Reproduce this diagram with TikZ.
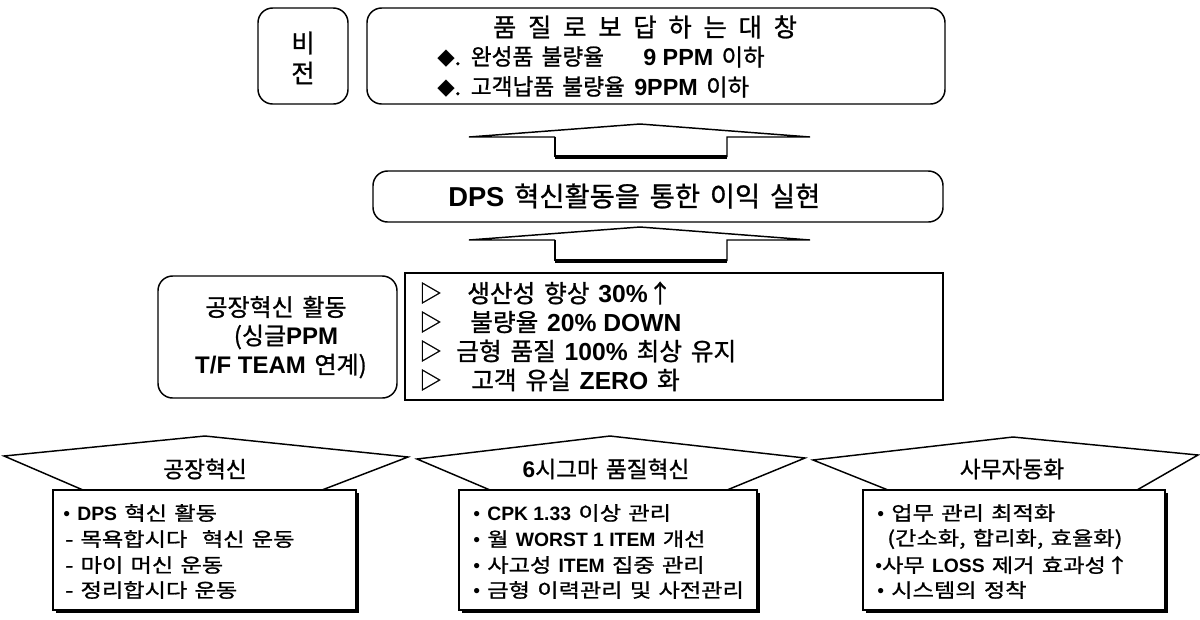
\documentclass[tikz,border=0pt]{standalone}
\usepackage{fontspec}
\setmainfont{Noto Sans CJK KR}[WordSpace=1.6, FakeBold=1.0]
\newfontfamily\krw{Noto Sans CJK KR}[WordSpace=1.4, FakeBold=1.0, FakeStretch=1.2]
\newfontfamily\ar{Liberation Sans}
\newfontfamily\djv{DejaVu Sans}
\newcommand\B[1]{{\ar\bfseries #1}}
\newcommand\fsz[1]{\fontsize{#1}{#1}\selectfont}
\usetikzlibrary{fit,shadows}
\begin{document}
\begin{tikzpicture}[x=0.75pt,y=-0.75pt,
  every node/.style={inner sep=0pt},
  rbox/.style={draw, line width=1.1pt, rounded corners=11pt, inner sep=0pt},
  sbox/.style={draw, line width=1.1pt, inner sep=0pt},
  shbox/.style={draw, line width=1.1pt, inner sep=0pt, fill=white,
     drop shadow={shadow xshift=2pt, shadow yshift=-2pt, fill=black, opacity=1}},
  lbl/.style={anchor=west, inner sep=0pt},
  ctr/.style={anchor=center, inner sep=0pt},
  wing/.style={line width=1.1pt, line join=miter},
  stem/.style={line width=3pt},
  btxt/.style={anchor=west, inner sep=0pt, font=\krw\fsz{14.5}}
]
\useasboundingbox (0,0) rectangle (1200,619);

% ---- top: vision
\node[rbox, fit={(258,8)(348,104)}] (vlab) {};
\node[rbox, fit={(367,8)(945,104)}] (vis) {};
\node[ctr, font=\fsz{19}] (vl1) at (303,43) {비};
\node[ctr, font=\fsz{19}] (vl2) at (303,73) {전};
\node[ctr, font=\fsz{19}] (vt) at (645,27) {\makebox[228pt]{품\hfill 질\hfill 로\hfill 보\hfill 답\hfill 하\hfill 는\hfill 대\hfill 창}};
\node[lbl, font=\fsz{17}] (v2a) at (437,57) {{\djv ◆}. 완성품 불량율};
\node[lbl, font=\fsz{17.5}] (v2b) at (643,57) {\B{9 PPM} 이하};
\node[lbl, font=\fsz{17}] (v3a) at (437,87) {{\djv ◆}. 고객납품 불량율};
\node[lbl, font=\fsz{17.5}] (v3b) at (634,87) {\B{9PPM} 이하};

% ---- arrow 1
\draw[wing] (555,137) -- (469,137) -- (640,124) -- (810,137) -- (727,137) -- (727,157);
\draw[wing] (555,137) -- (555,157);
\draw[stem] (555,157) -- (727,157);

% ---- DPS
\node[rbox, fit={(373,171)(943,222)}] (dps) {};
\node[lbl, font=\fsz{20.5}] (dpst) at (448,196) {\B{DPS} 혁신활동을 통한 이익 실현};

% ---- arrow 2
\draw[wing] (555,240) -- (469,240) -- (640,227) -- (810,240) -- (727,240) -- (727,261);
\draw[wing] (555,240) -- (555,261);
\draw[stem] (555,261) -- (727,261);

% ---- factory box and goals
\node[rbox, fit={(158,276)(397,398)}] (fac) {};
\node[ctr, font=\fsz{18}] (f1) at (276,307) {공장혁신 활동};
\node[ctr, font=\fsz{18}] (f2) at (286,337) {(싱글\B{PPM}};
\node[ctr, font=\fsz{18}] (f3) at (281,366) {\B{T/F TEAM} 연계)};

\node[sbox, fit={(405,273)(943,400)}] (goal) {};
\foreach \yy/\nm in {293/g1,322/g2,351/g3,380/g4}{
  \node[lbl, font=\fsz{17}] (\nm m) at (419,\yy) {▷};
}
\node[lbl, font=\fsz{18.5}] (g1) at (467,293) {생산성 향상 \B{30\%}↑};
\node[lbl, font=\fsz{18.5}] (g2) at (470,322) {불량율 \B{20\% DOWN}};
\node[lbl, font=\fsz{18.5}] (g3) at (456,351) {금형 품질 \B{100\%} 최상 유지};
\node[lbl, font=\fsz{18.5}] (g4) at (471,380) {고객 유실 \B{ZERO} 화};

% ---- bottom hats
\draw[wing] (83,490) -- (4,456) -- (205,436) -- (408,457) -- (322,490);
\draw[wing] (490,490) -- (417,459) -- (610,436) -- (805,458) -- (727,490);
\draw[wing] (888,490) -- (813,460) -- (1013,437) -- (1198,455) -- (1137,490);
\node[ctr, font=\fsz{17}] (h1) at (205,469) {공장혁신};
\node[ctr, font=\fsz{17}] (h2) at (606,469) {\B{6}시그마 품질혁신};
\node[ctr, font=\fsz{17}] (h3) at (1012,469) {사무자동화};

% ---- bottom boxes
\node[shbox, fit={(53,490)(356,610)}] (b1) {};
\node[shbox, fit={(459,490)(757,610)}] (b2) {};
\node[shbox, fit={(863,490)(1165,610)}] (b3) {};

\node[btxt] (b1a) at (63,513) {{\ar •} \B{DPS} 혁신 활동};
\node[btxt] (b1b) at (65,539) {- 목욕합시다 \ 혁신 운동};
\node[btxt] (b1c) at (65,565) {- 마이 머신 운동};
\node[btxt] (b1d) at (65,590) {- 정리합시다 운동};

\node[btxt] (b2a) at (473,513) {{\ar •} \B{CPK 1.33} 이상 관리};
\node[btxt] (b2b) at (473,539) {{\ar •} 월 \B{WORST 1 ITEM} 개선};
\node[btxt] (b2c) at (473,565) {{\ar •} 사고성 \B{ITEM} 집중 관리};
\node[btxt] (b2d) at (473,590) {{\ar •} 금형 이력관리 및 사전관리};

\node[btxt] (b3a) at (877,513) {{\ar •} 업무 관리 최적화};
\node[btxt] (b3b) at (887,539) {(간소화, 합리화, 효율화)};
\node[btxt] (b3c) at (875,565) {{\ar •}사무 \B{LOSS} 제거 효과성↑};
\node[btxt] (b3d) at (877,590) {{\ar •} 시스템의 정착};
\end{tikzpicture}
\end{document}
